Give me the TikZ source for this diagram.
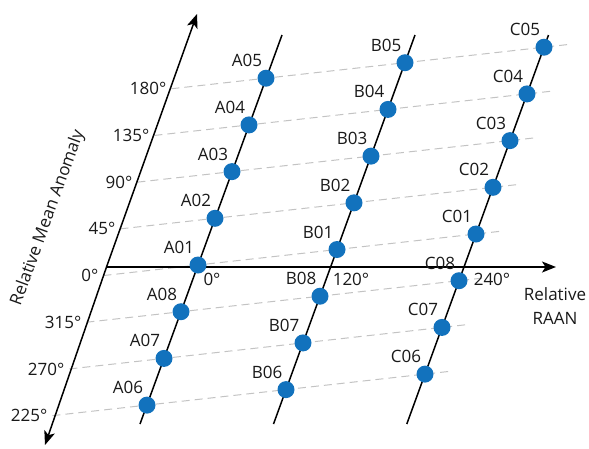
\documentclass[tikz,border=0pt]{standalone}
\usepackage{fontspec}
\setmainfont{Open Sans}
\usetikzlibrary{arrows.meta,calc}
\definecolor{dotblue}{RGB}{18,114,189}
\definecolor{guidegray}{RGB}{195,195,195}
\definecolor{ink}{RGB}{25,25,25}
\begin{document}
\begin{tikzpicture}[x=1pt,y=-1pt,
  guide/.style={draw=guidegray,line width=1pt,dash pattern=on 8pt off 5pt},
  colline/.style={draw=black,line width=1.5pt},
  axisline/.style={draw=black,line width=1.5pt,-{Stealth[length=14pt,width=11pt,inset=3.5pt]}},
  dot/.style={circle,fill=dotblue,draw=none,minimum size=17pt,inner sep=0pt},
  lbl/.style={font=\fontsize{17}{20}\selectfont,text=ink,inner sep=0pt}]
\useasboundingbox (0,0) rectangle (589,448);
% positions
\foreach \j/\n in {0/01,1/02,2/03,3/04,4/05,-1/08,-2/07,-3/06} {
  \coordinate (pA\n) at ($(198,265)+\j*(17,-46.7)$);
  \coordinate (pB\n) at ($(pA\n)+(139,-15.5)$);
  \coordinate (pC\n) at ($(pA\n)+2*(139,-15.5)$);
  \coordinate (t\n) at ($(pA\n)-0.68*(139,-15.5)$);
  \coordinate (e\n) at ($(pC\n)+0.17*(139,-15.5)$);
}
% dashed guides
\foreach \n in {01,02,03,04,05,06,07,08}
  \draw[guide] (t\n) -- (e\n);
% column lines
\coordinate (Abot) at (140,424); \coordinate (Atop) at (282,35);
\coordinate (Bbot) at (273.5,424); \coordinate (Btop) at (415,35);
\coordinate (Cbot) at (406.8,424); \coordinate (Ctop) at (548.5,35);
\draw[colline] (Abot) -- (Atop);
\draw[colline] (Bbot) -- (Btop);
\draw[colline] (Cbot) -- (Ctop);
% axes
\coordinate (hstart) at (106,267); \coordinate (hend) at (556,267);
\coordinate (vbot) at (45,445); \coordinate (vtop) at (197,14);
\coordinate (vmid) at (106.5,267);
\draw[axisline] (hstart) -- (hend);
\draw[axisline] (vmid) -- (vtop);
\draw[axisline] (vmid) -- (vbot);
% dots and labels
\foreach \n in {01,02,03,04,05,06,07,08} {
  \node[dot] (A\n) at (pA\n) {};
  \node[dot] (B\n) at (pB\n) {};
  \node[dot] (C\n) at (pC\n) {};
  \node[lbl] (lA\n) at ($(A\n)+(-19,-17.5)$) {A\n};
  \node[lbl] (lB\n) at ($(B\n)+(-19,-17.5)$) {B\n};
  \node[lbl] (lC\n) at ($(C\n)+(-19,-17.5)$) {C\n};
}
% vertical axis tick labels
\foreach \n/\a in {01/0,02/45,03/90,04/135,05/180,08/315,07/270,06/225}
  \node[lbl,anchor=east] (tick\n) at ($(t\n)+(-5,0)$) {\a°};
% horizontal axis tick labels
\node[lbl] (h0) at (212,279.5) {0°};
\node[lbl] (h120) at (351,279.5) {120°};
\node[lbl] (h240) at (492,279.5) {240°};
\node[lbl,align=center,font=\fontsize{17}{24}\selectfont] (raan) at (555,305.7) {Relative\\RAAN};
\node[lbl,rotate=70] (rma) at (48,218) {Relative Mean Anomaly};
\end{tikzpicture}
\end{document}
